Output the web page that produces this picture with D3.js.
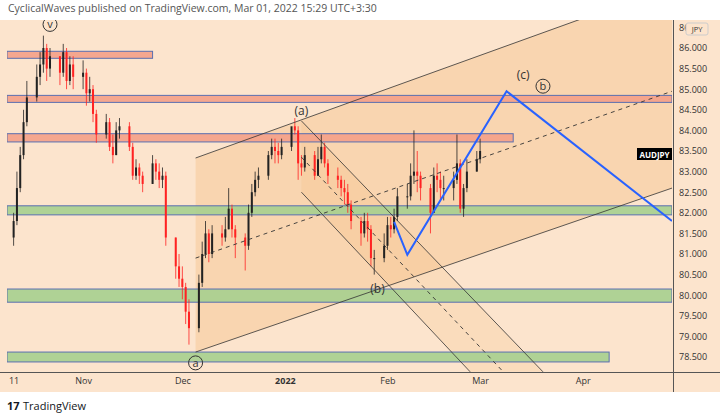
<!DOCTYPE html>
<html><head><meta charset="utf-8">
<script src="https://cdn.jsdelivr.net/npm/d3@7"></script>
<style>
body{margin:0;background:#fff;font-family:"Open Sans",sans-serif}
svg text{font-family:"Open Sans",sans-serif}
</style></head>
<body><svg width="720" height="419"></svg>
<script>
// AUDJPY daily bars, Oct 11 2021 .. Mar 1 2022 (weekdays)
const firstOpen = 81.4
const closes = [81.8,82.6,83.4,84.2,84.8, 85.3,85.6,86.0,85.5,85.8, 85.4,85.9,85.2,85.6,85.3,
  85.4,84.9,85.0,84.4,83.9, 84.2,83.6,83.4,84.0,84.1, 83.6,82.9,83.1,82.9,82.7,
  83.2,83.0,82.8,82.9,81.4, 80.7,80.4,80.2,79.6,79.2, 80.3,81.0,81.5,81.0,81.5,
  81.4,81.6,82.1,81.6,81.4, 81.2,82.0,82.5,82.8,82.9, 83.4,83.6,83.5,83.4,83.6,
  84.1,84.0,83.2,83.1,83.4, 82.9,83.3,83.6,83.2,82.9, 82.8,82.6,82.5,82.2,81.8,
  81.5,81.8,81.6,80.9,80.9, 81.2,81.7,81.6,81.9,82.4, 82.4,82.9,83.0,82.9,82.6,
  82.0,82.9,82.8,82.6,82.6, 82.8,83.2,82.1,82.6,83.0, 83.3,83.5]
const highs = [82.0,83.0,83.6,84.5,85.2, 85.6,85.9,86.3,86.1,86.0, 85.8,86.1,86.0,85.8,85.8,
  85.7,85.5,85.3,85.1,84.5, 84.4,84.3,83.9,84.2,84.3, 84.2,83.7,83.3,83.2,83.0,
  83.4,83.3,83.2,83.1,83.0, 81.4,81.0,80.7,80.3,79.9, 80.5,81.3,81.8,81.6,81.7,
  81.7,81.9,82.6,82.2,81.7, 81.5,82.2,82.7,83.0,83.1, 83.5,83.8,83.8,83.7,83.8,
  84.0,84.3,84.1,83.4,83.6, 83.5,83.6,83.9,83.7,83.3, 83.1,82.9,82.8,82.7,82.3,
  81.9,82.0,82.0,81.7,81.1, 81.5,81.9,81.9,82.1,82.6, 82.7,83.2,84.0,83.5,83.0,
  82.7,83.1,83.2,83.0,82.9, 83.0,83.9,83.3,82.7,83.3, 83.5,83.8]
const lows = [81.2,81.7,82.5,83.3,84.1, 84.7,85.1,85.4,85.2,85.3, 85.1,85.3,85.0,85.1,85.0,
  85.0,84.6,84.7,84.2,83.7, 83.8,83.5,83.2,83.4,83.8, 83.5,82.8,82.8,82.7,82.5,
  82.7,82.8,82.6,82.6,81.2, 80.4,80.2,79.9,79.3,78.8, 79.1,80.2,80.9,80.8,80.9,
  81.2,81.3,81.6,81.4,80.9, 80.6,81.1,81.9,82.4,82.6, 82.8,83.3,83.2,83.2,83.3,
  83.5,83.9,82.8,82.9,83.0, 82.8,82.9,83.2,83.1,82.7, 82.6,82.4,82.2,82.0,81.6,
  81.2,81.4,81.3,80.7,80.5, 80.8,81.1,81.4,81.5,81.8, 82.1,82.3,82.7,82.5,82.3,
  81.5,82.0,82.5,82.3,82.3, 82.3,82.7,82.0,81.9,82.5, 83.0,83.2]

const yTicks = [78.5,79,79.5,80,80.5,81,81.5,82,82.5,83,83.5,84,84.5,85,85.5,86,86.5]
const xTickLabels = [["2021-10-11","11"],["2021-11-01","Nov"],["2021-12-01","Dec"],["2022-01-01","2022"],
  ["2022-02-01","Feb"],["2022-03-01","Mar"],["2022-04-01","Apr"]]

// zones: [from, to, priceLow, priceHigh, kind]
const zones = [["2021-10-09","2021-11-22",85.75,85.92,"r"],["2021-10-09","2022-04-28",84.68,84.85,"r"],
  ["2021-10-09","2022-03-11",83.72,83.92,"r"],["2021-10-09","2022-04-28",81.95,82.17,"g"],
  ["2021-10-09","2022-04-28",79.83,80.15,"g"],["2021-10-09","2022-04-09",78.38,78.62,"g"]]
// rising channel: upper, lower, mid
const upCh = [["2021-12-05",83.33],["2022-04-28",87.5]]
const loCh = [["2021-12-05",78.62],["2022-04-28",82.6]]
const midCh = [["2021-12-05",80.9],["2022-04-28",84.95]]
// falling channel
const fUp = [["2022-01-06",84.23],["2022-03-20",78.14]]
const fLo = [["2022-01-06",82.5],["2022-02-26",78.14]]
const fMid = [["2022-01-06",83.35],["2022-03-08",78.14]]
const proj = [["2022-02-03",81.78],["2022-02-07",80.98],["2022-03-09",84.95],["2022-04-28",81.8]]

const P = d3.timeParse("%Y-%m-%d")
const svg = d3.select("svg")
const L = 7, R = 672, T = 20, B = 372
const x = d3.scaleTime().domain([P("2021-10-09"), P("2022-04-28")]).range([L, R])
const y = d3.scaleLinear().domain([78.5, 86]).range([357, 48])

svg.append("text").attr("x", 8).attr("y", 12).attr("font-size", 10.5).attr("fill", "#555")
  .text("CyclicalWaves published on TradingView.com, Mar 01, 2022 15:29 UTC+3:30")
svg.append("rect").attr("x", 0).attr("y", T).attr("width", 720).attr("height", 372).attr("fill", "#fce4cd")
svg.append("defs").append("clipPath").attr("id", "c").append("rect")
  .attr("x", L).attr("y", T).attr("width", R - L).attr("height", B - T)
const g = svg.append("g").attr("clip-path", "url(#c)")
const pt = d => [x(P(d[0])), y(d[1])]

// channel fills
g.append("path").attr("d", d3.line()([pt(upCh[0]), pt(upCh[1]), pt(loCh[1]), pt(loCh[0])]))
  .attr("fill", "#f7c48f").attr("opacity", 0.45)
g.append("path").attr("d", d3.line()([pt(fUp[0]), pt(fUp[1]), pt(fLo[1]), pt(fLo[0])]))
  .attr("fill", "#f3b56e").attr("opacity", 0.18)

// zones
g.selectAll(".z").data(zones).enter().append("rect")
  .attr("x", d => x(P(d[0]))).attr("width", d => x(P(d[1])) - x(P(d[0])))
  .attr("y", d => y(d[3])).attr("height", d => y(d[2]) - y(d[3]))
  .attr("fill", d => d[4] == "r" ? "#f4a088" : "#a6cf8f").attr("fill-opacity", 0.9)
  .attr("stroke", "#5a6fb0").attr("stroke-width", 1)

// candles
const days = d3.timeDay.range(P("2021-10-11"), P("2022-03-02")).filter(d => d.getDay() % 6 != 0)
const bars = days.map((d, i) => ({d, o: i ? closes[i - 1] : firstOpen, c: closes[i], h: highs[i], l: lows[i]}))
const cb = g.append("g")
cb.selectAll("line").data(bars).enter().append("line")
  .attr("x1", d => x(d.d)).attr("x2", d => x(d.d)).attr("y1", d => y(d.h)).attr("y2", d => y(d.l))
  .attr("stroke", d => d.c >= d.o ? "#222" : "#f22").attr("stroke-width", 0.8)
cb.selectAll("rect").data(bars).enter().append("rect")
  .attr("x", d => x(d.d) - 1).attr("width", 2)
  .attr("y", d => y(Math.max(d.o, d.c))).attr("height", d => Math.max(1, Math.abs(y(d.o) - y(d.c))))
  .attr("fill", d => d.c >= d.o ? "#222" : "#f22")

// lines
const ln = d3.line()
const drawL = (pts, dash, col, w) => g.append("path").attr("d", ln(pts.map(pt))).attr("fill", "none")
  .attr("stroke", col).attr("stroke-width", w).attr("stroke-dasharray", dash)
drawL(upCh, null, "#333", 0.8); drawL(loCh, null, "#333", 0.8); drawL(midCh, "4,4", "#333", 0.9)
drawL(fUp, null, "#333", 0.8); drawL(fLo, null, "#333", 0.8); drawL(fMid, "4,4", "#333", 0.9)
drawL(proj, null, "#2962ff", 2)

// labels
const lab = (d, s, dy) => g.append("text").attr("x", x(P(d[0]))).attr("y", y(d[1]) + dy)
  .attr("text-anchor", "middle").attr("font-size", 12).attr("fill", "#333").text(s)
lab(["2022-01-06",84.23], "(a)", -6)
lab(["2022-01-29",80.5], "(b)", 18)
lab(["2022-03-14",85.0], "(c)", -10)
const circ = (d, s, dy) => {
  const cx = x(P(d[0])), cy = y(d[1]) + dy
  g.append("circle").attr("cx", cx).attr("cy", cy).attr("r", 7).attr("fill", "none").attr("stroke", "#333")
  g.append("text").attr("x", cx).attr("y", cy + 4).attr("text-anchor", "middle").attr("font-size", 11).attr("fill", "#333").text(s)
}
circ(["2021-10-22",86.5], "v", -3)
circ(["2022-03-20",85.0], "b", -3)
circ(["2021-12-05",78.6], "a", 10)

// axes
svg.append("line").attr("x1", 673.5).attr("x2", 673.5).attr("y1", T).attr("y2", 392).attr("stroke", "#555")
svg.append("line").attr("x1", 0).attr("x2", 720).attr("y1", B + 0.5).attr("y2", B + 0.5).attr("stroke", "#555")
svg.append("g").attr("transform", `translate(${R},0)`)
  .call(d3.axisRight(y).tickValues(yTicks).tickFormat(d3.format(".3f")).tickSize(0).tickPadding(7))
  .call(a => a.select(".domain").remove())
  .selectAll("text").attr("font-size", 9).attr("fill", "#333")
svg.append("rect").attr("x", 686).attr("y", 23).attr("width", 22).attr("height", 12).attr("rx", 2)
  .attr("fill", "#fce4cd").attr("stroke", "#ccc")
svg.append("text").attr("x", 697).attr("y", 32).attr("text-anchor", "middle").attr("font-size", 7.5).attr("fill", "#333").text("JPY")
svg.append("rect").attr("x", 637).attr("y", 148).attr("width", 35).attr("height", 12).attr("fill", "#000")
svg.append("text").attr("x", 654.5).attr("y", 157.5).attr("text-anchor", "middle").attr("font-size", 8)
  .attr("font-weight", "bold").attr("fill", "#fff").text("AUDJPY")
svg.append("g").attr("transform", `translate(0,${B})`)
  .call(d3.axisBottom(x).tickValues(xTickLabels.map(d => P(d[0]))).tickSize(0).tickPadding(6)
    .tickFormat((d, i) => xTickLabels[i][1]))
  .call(a => a.select(".domain").remove())
  .selectAll("text").attr("font-size", 9).attr("fill", "#333").attr("font-weight", (d, i) => i == 3 ? "bold" : null)

// footer
svg.append("rect").attr("x", 0).attr("y", 392).attr("width", 720).attr("height", 27).attr("fill", "#fff")
svg.append("text").attr("x", 7).attr("y", 410).attr("font-size", 11).attr("font-weight", "bold").attr("fill", "#131722").text("17")
svg.append("text").attr("x", 23).attr("y", 410).attr("font-size", 11).attr("fill", "#131722").text("TradingView")
</script></body></html>
